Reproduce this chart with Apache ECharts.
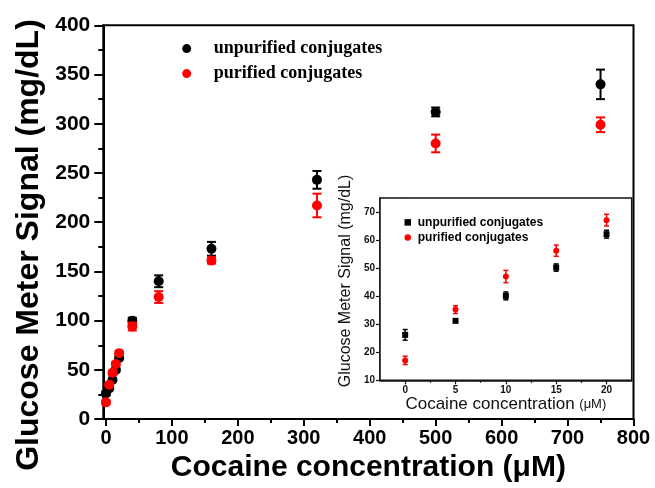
<!DOCTYPE html>
<html>
<head>
<meta charset="utf-8">
<script src="https://cdn.jsdelivr.net/npm/echarts@6/dist/echarts.min.js"></script>
<style>html,body{margin:0;padding:0;background:#fff;}#c{width:655px;height:488px;}</style>
</head>
<body>
<div id="c"></div>
<script>
// ---- main plot data ----
const mainX = [0, 5, 10, 15, 20, 40, 80, 160, 320, 500, 750];
const mainUnpur = [26, 31, 40, 50, 62, 100, 140, 173, 243, 312, 340];
const mainUnpurErr = [2, 0.5, 1.5, 1.5, 1.5, 3, 6, 7, 9, 4.5, 15];
const mainPur = [17, 35, 47, 56, 67, 94, 124, 161, 217, 280, 299];
const mainPurErr = [2, 1.5, 2, 2, 2, 4, 6, 3, 12, 9, 7.5];
const mainXTicks = [0, 100, 200, 300, 400, 500, 600, 700, 800];
const mainXMinor = [50, 150, 250, 350, 450, 550, 650, 750];

// ---- inset data ----
const insetX = [0, 5, 10, 15, 20];
const insetUnpur = [26.2, 31.2, 40.1, 50.2, 62.1];
const insetUnpurErr = [1.9, 0.5, 1.4, 1.3, 1.4];
const insetPur = [17.1, 35.2, 47, 56.2, 67.1];
const insetPurErr = [1.5, 1.4, 2.2, 2, 2.1];
const insetXTicks = [0, 5, 10, 15, 20];
const insetXMinor = [2.5, 7.5, 12.5, 17.5];
const insetYTicks = [10, 20, 30, 40, 50, 60, 70];
const insetYMinor = [15, 25, 35, 45, 55, 65, 75];

const NAME_U = 'unpurified conjugates';
const NAME_P = 'purified conjugates';

function pts(xs, ys) { return xs.map((x, i) => [x, ys[i]]); }
function errs(xs, ys, es) { return xs.map((x, i) => [x, ys[i] - es[i], ys[i] + es[i]]); }

function errRender(capHalf, lw) {
  return function (params, api) {
    const x = api.value(0), lo = api.value(1), hi = api.value(2);
    const a = api.coord([x, lo]), b = api.coord([x, hi]);
    const st = { stroke: api.visual('color'), lineWidth: lw };
    return {
      type: 'group',
      children: [
        { type: 'line', shape: { x1: a[0], y1: a[1], x2: b[0], y2: b[1] }, style: st },
        { type: 'line', shape: { x1: a[0] - capHalf, y1: a[1], x2: a[0] + capHalf, y2: a[1] }, style: st },
        { type: 'line', shape: { x1: b[0] - capHalf, y1: b[1], x2: b[0] + capHalf, y2: b[1] }, style: st }
      ]
    };
  };
}

const SANS = 'Liberation Sans, Arial, sans-serif';
const SERIF = 'Liberation Serif, Times New Roman, serif';
const black = '#000';
const red = '#ff0000';

const chart = echarts.init(document.getElementById('c'), null, { renderer: 'canvas' });
chart.setOption({
  animation: false,
  backgroundColor: '#fff',
  grid: [
    { left: 103.3, right: 21.5, top: 25.3, bottom: 65.7, show: true, borderColor: black, borderWidth: 2, backgroundColor: 'transparent' },
    { left: 380, right: 23.3, top: 198, bottom: 107.7, show: true, borderColor: '#111', borderWidth: 1.5, backgroundColor: '#fff', z: 3 }
  ],
  legend: [
    {
      left: 177.2, top: 34.6, orient: 'vertical', itemWidth: 44, itemHeight: 9, itemGap: 7,
      selectedMode: false,
      data: [{ name: NAME_U, icon: 'circle' }, { name: NAME_P, icon: 'circle' }],
      textStyle: { fontFamily: SERIF, fontWeight: 'bold', fontSize: 18, color: black, lineHeight: 16 }
    },
    {
      left: 399.5, top: 211.4, orient: 'vertical', itemWidth: 10, itemHeight: 6.5, itemGap: 3,
      selectedMode: false, z: 5,
      data: [{ name: NAME_U, icon: 'path://M0,0L1,0L1,1L0,1Z' }, { name: NAME_P, icon: 'circle' }],
      textStyle: { fontFamily: SANS, fontWeight: 'bold', fontSize: 12, color: black, lineHeight: 12 }
    }
  ],
  xAxis: [
    {
      gridIndex: 0, type: 'value', min: -4, max: 800, position: 'bottom',
      axisLine: { show: true, onZero: false, lineStyle: { color: black, width: 2 } },
      axisTick: { show: true, inside: false, length: 7, customValues: mainXTicks, lineStyle: { color: black, width: 2 } },
      axisLabel: { customValues: mainXTicks, margin: 9, fontFamily: SANS, fontWeight: 'bold', fontSize: 20, color: black },
      splitLine: { show: false },
      name: 'Cocaine concentration (μM)', nameLocation: 'middle', nameGap: 28,
      nameTextStyle: { fontFamily: SANS, fontWeight: 'bold', fontSize: 30, color: black }
    },
    {
      gridIndex: 0, type: 'value', min: -4, max: 800, position: 'bottom',
      axisLine: { show: false },
      axisTick: { show: true, inside: false, length: 4, customValues: mainXMinor, lineStyle: { color: black, width: 2 } },
      axisLabel: { show: false }, splitLine: { show: false }
    },
    {
      gridIndex: 1, type: 'value', min: -2.5, max: 22.5, position: 'bottom',
      axisLine: { show: true, onZero: false, lineStyle: { color: '#111', width: 1.5 } },
      axisTick: { show: true, inside: false, length: 4, customValues: insetXTicks, lineStyle: { color: '#111', width: 1.2 } },
      axisLabel: { customValues: insetXTicks, margin: 5, fontFamily: SANS, fontWeight: 'bold', fontSize: 10, color: '#111' },
      splitLine: { show: false },
      name: '{a|Cocaine concentration }{b|(μM)}', nameLocation: 'middle', nameGap: 14,
      nameTextStyle: {
        fontFamily: SANS, fontSize: 17, color: '#111',
        rich: { a: { fontFamily: SANS, fontSize: 17, color: '#111' }, b: { fontFamily: SANS, fontSize: 13, color: '#111' } }
      }
    },
    {
      gridIndex: 1, type: 'value', min: -2.5, max: 22.5, position: 'bottom',
      axisLine: { show: false },
      axisTick: { show: true, inside: false, length: 2.5, customValues: insetXMinor, lineStyle: { color: '#111', width: 1.2 } },
      axisLabel: { show: false }, splitLine: { show: false }
    }
  ],
  yAxis: [
    {
      gridIndex: 0, type: 'value', min: 0, max: 400, interval: 50, position: 'left',
      axisLine: { show: true, onZero: false, lineStyle: { color: black, width: 2 } },
      axisTick: { show: true, inside: false, length: 9, lineStyle: { color: black, width: 2 } },
      minorTick: { show: true, splitNumber: 2, length: 5, lineStyle: { color: black, width: 2 } },
      axisLabel: { margin: 13, fontFamily: SANS, fontWeight: 'bold', fontSize: 21, color: black },
      splitLine: { show: false }
    },
    {
      gridIndex: 1, type: 'value', min: 10, max: 75, position: 'left',
      axisLine: { show: true, onZero: false, lineStyle: { color: '#111', width: 1.5 } },
      axisTick: { show: true, inside: false, length: 4, customValues: insetYTicks, lineStyle: { color: '#111', width: 1.2 } },
      axisLabel: { customValues: insetYTicks, margin: 5, fontFamily: SANS, fontWeight: 'bold', fontSize: 10, color: '#111' },
      splitLine: { show: false }
    },
    {
      gridIndex: 1, type: 'value', min: 10, max: 75, position: 'left',
      axisLine: { show: false },
      axisTick: { show: true, inside: false, length: 2.5, customValues: insetYMinor, lineStyle: { color: '#111', width: 1.2 } },
      axisLabel: { show: false }, splitLine: { show: false }
    }
  ],
  graphic: [
    {
      type: 'text', x: 29, y: 245, rotation: Math.PI / 2, z: 10,
      style: { text: 'Glucose Meter Signal (mg/dL)', fontFamily: SANS, fontWeight: 'bold', fontSize: 32, fill: black, align: 'center', verticalAlign: 'middle' }
    },
    {
      type: 'text', x: 346, y: 281, rotation: Math.PI / 2, z: 10,
      style: { text: 'Glucose Meter Signal (mg/dL)', fontFamily: SANS, fontSize: 16, fill: '#111', align: 'center', verticalAlign: 'middle' }
    }
  ],
  series: [
    { name: 'err-u-main', type: 'custom', xAxisIndex: 0, yAxisIndex: 0, renderItem: errRender(4.5, 2), itemStyle: { color: black }, encode: { x: 0, y: [1, 2] }, data: errs(mainX, mainUnpur, mainUnpurErr), z: 2 },
    { name: NAME_U, type: 'scatter', xAxisIndex: 0, yAxisIndex: 0, symbol: 'circle', symbolSize: 10, itemStyle: { color: black, opacity: 1 }, data: pts(mainX, mainUnpur), z: 3 },
    { name: 'err-p-main', type: 'custom', xAxisIndex: 0, yAxisIndex: 0, renderItem: errRender(4.5, 2), itemStyle: { color: red }, encode: { x: 0, y: [1, 2] }, data: errs(mainX, mainPur, mainPurErr), z: 4 },
    { name: NAME_P, type: 'scatter', xAxisIndex: 0, yAxisIndex: 0, symbol: 'circle', symbolSize: 10, itemStyle: { color: red, opacity: 1 }, data: pts(mainX, mainPur), z: 5 },
    { name: 'err-u-inset', type: 'custom', xAxisIndex: 2, yAxisIndex: 1, renderItem: errRender(2.5, 1.5), itemStyle: { color: black }, encode: { x: 0, y: [1, 2] }, data: errs(insetX, insetUnpur, insetUnpurErr), z: 6 },
    { name: NAME_U, type: 'scatter', xAxisIndex: 2, yAxisIndex: 1, symbol: 'rect', symbolSize: 6, itemStyle: { color: black, opacity: 1 }, data: pts(insetX, insetUnpur), z: 7 },
    { name: 'err-p-inset', type: 'custom', xAxisIndex: 2, yAxisIndex: 1, renderItem: errRender(2.5, 1.5), itemStyle: { color: red }, encode: { x: 0, y: [1, 2] }, data: errs(insetX, insetPur, insetPurErr), z: 6 },
    { name: NAME_P, type: 'scatter', xAxisIndex: 2, yAxisIndex: 1, symbol: 'circle', symbolSize: 6, itemStyle: { color: red, opacity: 1 }, data: pts(insetX, insetPur), z: 7 }
  ]
});
</script>
</body>
</html>
